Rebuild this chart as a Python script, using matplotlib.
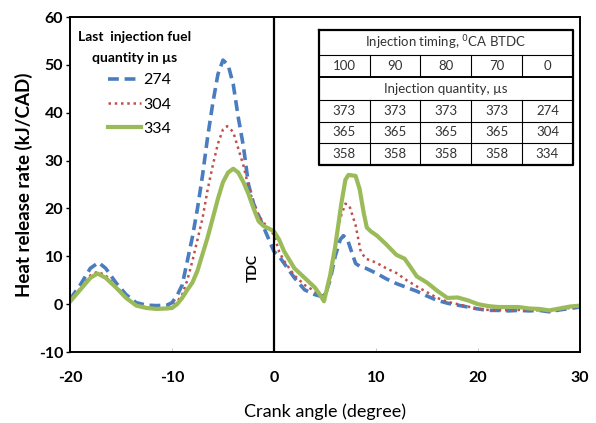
import matplotlib
matplotlib.use("Agg")
import matplotlib.pyplot as plt

plt.rcParams['font.family'] = ['Lato', 'DejaVu Sans']
plt.rcParams['axes.unicode_minus'] = False

# ---- data ----
x_274 = [-20, -19, -18, -17.2, -16.5, -15.5, -14.5, -13.5, -12.5, -11.5, -10.5, -10, -9.5, -9, -8.5, -8, -7.5, -7,
         -6.5, -6, -5.5, -5, -4.5, -4, -3.5, -3, -2.5, -2, -1.5, -1, -0.5, 0, 0.5, 1, 2, 3, 4, 4.5, 5, 5.5, 6, 6.5,
         6.8, 7.2, 7.6, 8, 8.5, 9, 10, 11, 12, 13, 14, 15, 16, 17, 18, 19, 20, 21, 22, 23, 24, 25, 26, 27, 28, 29, 30]
y_274 = [1, 4, 7.5, 8.7, 7.5, 4.5, 2, 0.3, -0.2, -0.3, -0.2, 0.3, 1.8, 4, 9, 14, 20, 27,
         35, 42, 48, 51, 50, 46, 39, 33, 25, 21, 18.5, 16, 13.5, 11, 10, 8.5, 5.5, 3, 2, 1.7, 1.8, 5, 10, 13.5,
         14.3, 13.5, 11, 8.5, 7.8, 7.5, 6.5, 5.3, 4.3, 3.5, 2.7, 1.7, 0.8, 0.2, -0.2, -0.6, -1, -1.3, -1.3, -1.4,
         -1.3, -1.4, -1.3, -1.6, -1.2, -0.9, -0.6]

x_304 = [-20, -19, -18, -17.3, -16.5, -15.5, -14.5, -13.5, -12.5, -11.5, -10.5, -10, -9.5, -9, -8.5, -8, -7.5, -7,
         -6.5, -6, -5.5, -5, -4.6, -4, -3.5, -3, -2.5, -2, -1.5, -1, -0.5, 0, 0.5, 1, 2, 3, 4, 4.8, 5.5, 6, 6.5,
         7, 7.4, 8, 8.5, 9, 10, 11, 12, 13, 14, 15, 16, 17, 18, 19, 20, 21, 22, 23, 24, 25, 26, 27, 28, 29, 30]
y_304 = [0.7, 3.3, 6, 6.8, 6, 3.8, 1.5, -0.2, -0.7, -0.9, -0.8, -0.5, 0.5, 2, 5, 9, 13.5, 18,
         24, 29, 33.5, 36.5, 37.2, 36, 32.5, 29, 24.5, 21, 18.5, 17, 15.8, 14.5, 11, 9, 6, 4, 2.7, 1.4, 5, 12, 18,
         21, 20.5, 16.5, 11, 9.5, 8.7, 7.5, 6.5, 5, 3.7, 2.5, 1.3, 0.5, 0, -0.5, -1, -1.2, -1.2, -1.3, -1.2,
         -1.3, -1.3, -1.5, -1.1, -0.8, -0.5]

x_334 = [-20, -19, -18, -17.3, -16.5, -15.5, -14.5, -13.5, -12.5, -11.5, -10.5, -10, -9.5, -9, -8.5, -8, -7.5, -7,
         -6.5, -6, -5.5, -5, -4.5, -4, -3.5, -3, -2.5, -2, -1.5, -1, -0.5, 0, 0.5, 1, 2, 3, 4, 4.5, 4.9, 5.5, 6,
         6.6, 7, 7.3, 8, 8.4, 8.8, 9.1, 9.5, 10.1, 11, 12, 12.8, 13.3, 14, 15, 16, 17, 18, 19, 20, 21, 22, 23, 24,
         25, 26, 27, 28, 29, 30]
y_334 = [0.5, 3, 5.5, 6.4, 5.5, 3.5, 1.3, -0.3, -0.8, -1, -0.9, -0.8, 0, 1.3, 3, 4.5, 7, 10.5,
         14, 18, 22, 25.5, 27.5, 28.3, 27.5, 25.5, 23, 20, 17.3, 16.3, 15.8, 15.2, 13.5, 11, 7.5, 5.5, 3.5, 2, 0.6,
         6, 12, 21, 26, 27, 26.8, 24, 19, 16, 15.2, 14.3, 12.5, 10.3, 9.5, 8, 5.8, 4.5, 2.8, 1.3, 1.4, 0.8, 0, -0.4,
         -0.6, -0.6, -0.6, -0.9, -1, -1.3, -0.9, -0.5, -0.3]

series_labels = ['274', '304', '334']
timing = ['100', '90', '80', '70', '0']
qty_rows = [['373', '373', '373', '373', '274'],
            ['365', '365', '365', '365', '304'],
            ['358', '358', '358', '358', '334']]

# ---- figure ----
fig = plt.figure(figsize=(5.96, 4.23), dpi=100)
ax = fig.add_axes([0.1174, 0.1678, 0.8558, 0.7920])

ax.plot(x_274, y_274, color='#4a7cc0', lw=2.6, ls=(0, (3, 1.6)), label=series_labels[0])
ax.plot(x_304, y_304, color='#c0504d', lw=1.8, ls=(0, (1, 1.5)), label=series_labels[1])
ax.plot(x_334, y_334, color='#9bbb59', lw=3.0, ls='-', label=series_labels[2])

ax.axvline(0, color='black', lw=1.6)

ax.set_xlim(-20, 30)
ax.set_ylim(-10, 60)
ax.set_xticks([-20, -10, 0, 10, 20, 30])
ax.set_yticks([-10, 0, 10, 20, 30, 40, 50, 60])
for s in ax.spines.values():
    s.set_linewidth(1.4)
ax.tick_params(axis='y', direction='out', length=3, width=1, labelsize=11.5, pad=2)
ax.tick_params(axis='x', direction='in', length=3, width=0.6, color='#bbbbbb', labelsize=11.5, pad=14)
for lab in ax.get_xticklabels() + ax.get_yticklabels():
    lab.set_fontweight('bold')

ax.set_ylabel('Heat release rate (kJ/CAD)', fontsize=13.5, fontweight='bold', labelpad=4)
ax.set_xlabel('Crank angle (degree)', fontsize=13, labelpad=13)

ax.text(-2.1, 7.5, 'TDC', rotation=90, fontsize=10, fontweight='bold', ha='center', va='center')

# legend title + legend
ax.text(0.127, 0.940, 'Last  injection fuel', transform=ax.transAxes, ha='center', va='center',
        fontsize=10, fontweight='bold')
ax.text(0.127, 0.878, 'quantity in µs', transform=ax.transAxes, ha='center', va='center',
        fontsize=10, fontweight='bold')
leg = ax.legend(loc='upper left', bbox_to_anchor=(0.074, 0.832), frameon=False, fontsize=11.5,
                handlelength=2.1, handletextpad=0.15, labelspacing=0.62, borderpad=0, borderaxespad=0)

# ---- table ----
tr = ax.transAxes
tl, trr = 0.488, 0.986
rows_y = [0.961, 0.887, 0.821, 0.752, 0.687, 0.624, 0.558]
ncol = 5
cw = (trr - tl) / ncol
ax.plot([tl, trr, trr, tl, tl], [rows_y[0], rows_y[0], rows_y[-1], rows_y[-1], rows_y[0]],
        transform=tr, color='black', lw=1.6, clip_on=False)
for i, yv in enumerate(rows_y[1:-1], start=1):
    ax.plot([tl, trr], [yv, yv], transform=tr, color='black', lw=1.4 if i == 2 else 0.8)
for c in range(1, ncol):
    xv = tl + c * cw
    ax.plot([xv, xv], [rows_y[1], rows_y[2]], transform=tr, color='black', lw=0.8)
    ax.plot([xv, xv], [rows_y[3], rows_y[6]], transform=tr, color='black', lw=0.8)

tkw = dict(transform=tr, ha='center', va='center', fontsize=9.5, color='#333333')
ax.text((tl + trr) / 2, (rows_y[0] + rows_y[1]) / 2, 'Injection timing, $^{0}$CA BTDC', **tkw)
ax.text((tl + trr) / 2, (rows_y[2] + rows_y[3]) / 2, 'Injection quantity, µs', **tkw)
for c, t in enumerate(timing):
    ax.text(tl + (c + 0.5) * cw, (rows_y[1] + rows_y[2]) / 2, t, **tkw)
for r, row in enumerate(qty_rows):
    for c, t in enumerate(row):
        ax.text(tl + (c + 0.5) * cw, (rows_y[3 + r] + rows_y[4 + r]) / 2, t, **tkw)

fig.savefig('out.png', dpi=100)
